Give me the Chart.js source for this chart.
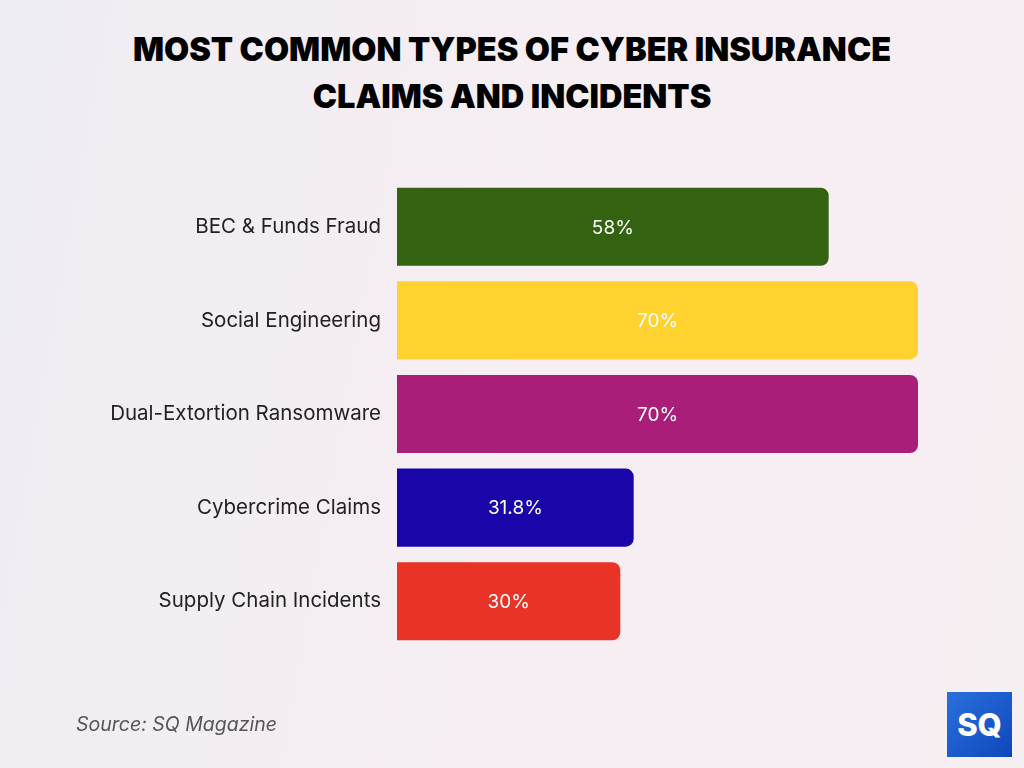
<!DOCTYPE html>
<html>
<head>
<meta charset="utf-8">
<script src="https://cdn.jsdelivr.net/npm/chart.js@4"></script>
<style>
  html, body { margin: 0; padding: 0; }
  body {
    width: 1024px; height: 768px; overflow: hidden; position: relative;
    background: linear-gradient(100deg, #eeedf3 0%, #f6eef2 50%, #f6eff2 100%);
    font-family: "Inter", sans-serif;
  }
  #title {
    position: absolute; left: 0; top: 26px; width: 1024px;
    text-align: center; font-weight: 900; font-size: 32.5px; line-height: 47px;
    color: #000;
  }
  #source {
    position: absolute; left: 76px; top: 712px;
    font-style: italic; font-size: 19.5px; color: #555;
  }
  #logo {
    position: absolute; left: 947px; top: 692px; width: 65px; height: 65px;
    background: linear-gradient(135deg, #2a70dd, #0f47bb);
    color: #fff; font-weight: 800; font-size: 31px; line-height: 65px; text-align: center;
  }
  #wrap { position: absolute; left: 0; top: 0; width: 1024px; height: 768px; }
</style>
</head>
<body>
<div id="title">MOST COMMON TYPES OF CYBER INSURANCE<br>CLAIMS AND INCIDENTS</div>
<div id="wrap"><canvas id="myChart"></canvas></div>
<div id="source">Source: SQ Magazine</div>
<div id="logo">SQ</div>
<script>
const categories = ["BEC & Funds Fraud", "Social Engineering", "Dual-Extortion Ransomware", "Cybercrime Claims", "Supply Chain Incidents"];
const values = [58, 70, 70, 31.8, 30];
const valueLabels = ["58%", "70%", "70%", "31.8%", "30%"];
const barColors = ["#336311", "#ffd230", "#a81e78", "#1a06a8", "#e83326"];

// draws the percentage inside each bar
const valueLabelPlugin = {
  id: "valueLabels",
  afterDatasetsDraw(chart) {
    const ctx = chart.ctx;
    const meta = chart.getDatasetMeta(0);
    ctx.save();
    ctx.fillStyle = "#ffffff";
    ctx.font = "19px Inter";
    ctx.textAlign = "center";
    ctx.textBaseline = "middle";
    meta.data.forEach((bar, i) => {
      const x = (bar.base + bar.x) / 2;
      ctx.fillText(valueLabels[i], x, bar.y + 1);
    });
    ctx.restore();
  }
};

const ctx = document.getElementById("myChart").getContext("2d");
const myChart = new Chart(ctx, {
  type: "bar",
  data: {
    labels: categories,
    datasets: [{
      data: values,
      backgroundColor: barColors,
      borderWidth: 0,
      borderRadius: 8,
      borderSkipped: "start",
      categoryPercentage: 1,
      barPercentage: 0.834
    }]
  },
  options: {
    indexAxis: "y",
    responsive: true,
    maintainAspectRatio: false,
    animation: false,
    layout: { padding: { top: 180, bottom: 120, right: 106, left: 0 } },
    scales: {
      x: { display: false, min: 0, max: 70 },
      y: {
        grid: { display: false, drawTicks: false },
        border: { display: false },
        ticks: { color: "#222", font: { size: 20.5, family: "Inter" }, padding: 16 },
        afterFit(scale) { scale.width = 397; }
      }
    },
    plugins: {
      legend: { display: false },
      tooltip: { enabled: false }
    }
  },
  plugins: [valueLabelPlugin]
});
</script>
</body>
</html>
